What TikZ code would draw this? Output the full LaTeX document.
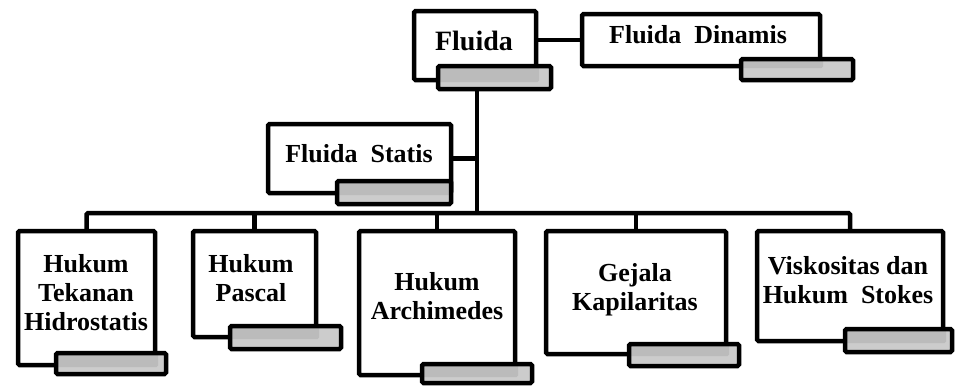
\documentclass[tikz,border=0pt]{standalone}
\usepackage{fontspec}
\setmainfont{Liberation Serif}
\begin{document}
\begin{tikzpicture}[x=1pt,y=-1pt,
  box/.style={draw=black, line width=4.5pt, rounded corners=1.5pt, fill=white, inner sep=0pt, outer sep=0pt},
  tab/.style={draw=black, line width=4.5pt, rounded corners=1.5pt, fill=tabgray, inner sep=0pt, outer sep=0pt,
    path picture={\fill[tabdark] (path picture bounding box.north west) rectangle ([xshift=3pt,yshift=-2pt]#1.south east);}},
  conn/.style={draw=black, line width=4.5pt, rounded corners=1.5pt},
  lbl/.style={font=\fontsize{26pt}{29pt}\selectfont\bfseries, align=center, inner sep=0pt, anchor=base},
  big/.style={font=\fontsize{28pt}{32pt}\selectfont\bfseries, inner sep=0pt, anchor=base}]
\definecolor{tabgray}{HTML}{CCCCCC}
\definecolor{tabdark}{HTML}{BBBBBB}
\useasboundingbox (0,0) rectangle (955,386);
% junction of the trunk and the bus
\coordinate (bus) at (477,213);
% boxes
\node[box, minimum width=122pt, minimum height=69pt] (fluida) at (475,45.5) {};
\node[box, minimum width=238pt, minimum height=52pt] (dinamis) at (701,40) {};
\node[box, minimum width=183pt, minimum height=69pt] (statis) at (359.5,158.5) {};
\node[box, minimum width=137pt, minimum height=134pt] (hidro) at (86.5,298) {};
\node[box, minimum width=123pt, minimum height=106pt] (pascal) at (254.5,284) {};
\node[box, minimum width=156pt, minimum height=144pt] (archi) at (437,303) {};
\node[box, minimum width=180pt, minimum height=123pt] (gejala) at (636,292.5) {};
\node[box, minimum width=186pt, minimum height=110pt] (visk) at (850,286) {};
% tabs
\node[tab=fluida, minimum width=113pt, minimum height=23pt] (fluidatab) at (494.5,77.5) {};
\node[tab=dinamis, minimum width=112pt, minimum height=21pt] (dinamistab) at (797,69.5) {};
\node[tab=statis, minimum width=114pt, minimum height=23pt] (statistab) at (394,192.5) {};
\node[tab=hidro, minimum width=110pt, minimum height=21pt] (hidrotab) at (111,363.5) {};
\node[tab=pascal, minimum width=111pt, minimum height=23pt] (pascaltab) at (285.5,337.5) {};
\node[tab=archi, minimum width=110pt, minimum height=19pt] (architab) at (477,373.5) {};
\node[tab=gejala, minimum width=110pt, minimum height=22pt] (gejalatab) at (684,355) {};
\node[tab=visk, minimum width=107pt, minimum height=23pt] (vusktab) at (898.5,340.5) {};
% connectors
\draw[conn] (fluida.east |- dinamis.west) -- (dinamis.west);
\draw[conn] (fluidatab.south -| bus) -- (bus);
\draw[conn] (statis.east) -- (statis.east -| bus);
\draw[conn] (hidro.north) |- (bus) -| (visk.north);
\draw[conn] (pascal.north) -- (pascal.north |- bus);
\draw[conn] (archi.north) -- (archi.north |- bus);
\draw[conn] (gejala.north) -- (gejala.north |- bus);
% labels (anchor base = baseline of the last line)
\node[big] (tfluida) at (474,50) {Fluida};
\node[lbl] (tdinamis) at (698,43) {Fluida\ \ Dinamis};
\node[lbl] (tstatis) at (359,162) {Fluida\ \ Statis};
\node[lbl] (thidro) at (86,330) {Hukum\\Tekanan\\Hidrostatis};
\node[lbl] (tpascal) at (251,301) {Hukum\\Pascal};
\node[lbl] (tarchi) at (437,319) {Hukum\\Archimedes};
\node[lbl] (tgejala) at (635,310) {Gejala\\Kapilaritas};
\node[lbl] (tvisk) at (848,303) {Viskositas dan\\Hukum\ \ Stokes};
\end{tikzpicture}
\end{document}
